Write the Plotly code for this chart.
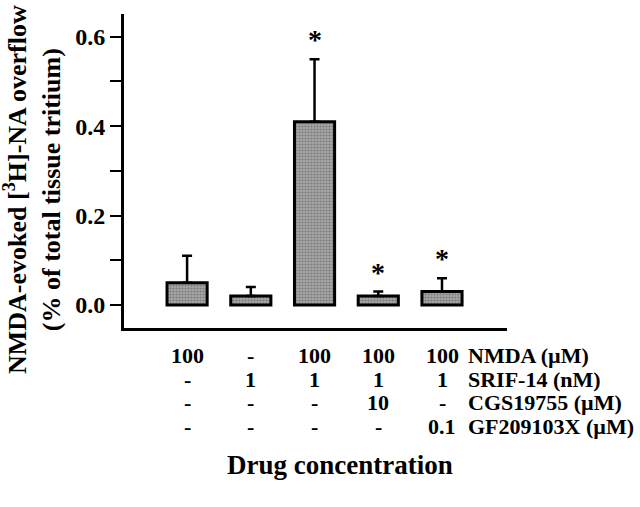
import plotly.graph_objects as go

# ---- data ----
groups = [0, 1, 2, 3, 4]
values = [0.05, 0.02, 0.41, 0.02, 0.03]
errors = [0.06, 0.02, 0.14, 0.01, 0.03]
significant = [False, False, True, True, True]

row_labels = ["NMDA (\u00b5M)", "SRIF-14 (nM)", "CGS19755 (\u00b5M)", "GF209103X (\u00b5M)"]
table = [
    ["100", "-", "100", "100", "100"],
    ["-", "1", "1", "1", "1"],
    ["-", "-", "-", "10", "-"],
    ["-", "-", "-", "-", "0.1"],
]
ytick_vals = [0.0, 0.2, 0.4, 0.6]
ytick_text = ["0.0", "0.2", "0.4", "0.6"]
yminor_vals = [0.1, 0.3, 0.5]

FONT = "Liberation Serif"

# layout geometry (pixels)
W, H = 640, 507
L, R, T, B = 124, 133, 14, 179
plot_h = H - T - B

fig = go.Figure()
fig.add_trace(go.Bar(
    x=groups, y=values, width=0.63,
    marker=dict(color="#9a9a9a",
                line=dict(color="black", width=3),
                pattern=dict(shape=".", fgcolor="#4a4a4a", bgcolor="#a8a8a8",
                             size=3, solidity=0.4)),
    error_y=dict(type="data", array=errors, arrayminus=[0]*len(errors),
                 symmetric=False, color="black", thickness=2.5, width=5),
    showlegend=False,
))

# significance asterisks
for g, v, e, s in zip(groups, values, errors, significant):
    if s:
        fig.add_annotation(x=g, y=v + e, xref="x", yref="y", text="<b>*</b>",
                           showarrow=False, yanchor="bottom", yshift=2,
                           font=dict(family=FONT, size=28, color="black"))

def py(px):
    return (H - B - px) / plot_h

row_px = [355, 379, 402, 426]
for r, (lab, row) in enumerate(zip(row_labels, table)):
    for g, t in zip(groups, row):
        fig.add_annotation(x=g, y=py(row_px[r]), xref="x", yref="paper",
                           text="<b>%s</b>" % t, showarrow=False,
                           xanchor="center", yanchor="middle",
                           font=dict(family=FONT, size=22, color="black"))
    fig.add_annotation(x=4.38, y=py(row_px[r]), xref="x", yref="paper",
                       text="<b>%s</b>" % lab, showarrow=False,
                       xanchor="left", yanchor="middle",
                       font=dict(family=FONT, size=22, color="black"))

fig.add_annotation(x=(340 - L) / (W - L - R), y=py(465), xref="paper", yref="paper",
                   text="<b>Drug concentration</b>", showarrow=False,
                   xanchor="center", yanchor="middle",
                   font=dict(family=FONT, size=27, color="black"))

fig.add_annotation(x=(32 - L) / (W - L - R), y=py(190), xref="paper", yref="paper",
                   text="<b>NMDA-evoked [<sup>3</sup>H]-NA overflow<br>(% of total tissue tritium)</b>",
                   showarrow=False, textangle=-90,
                   xanchor="center", yanchor="middle",
                   font=dict(family=FONT, size=26, color="black"))

fig.update_layout(
    width=W, height=H,
    margin=dict(l=L, r=R, t=T, b=B),
    paper_bgcolor="white", plot_bgcolor="white",
    bargap=0.3,
)
fig.update_xaxes(range=[-0.99, 5.02], showline=True, linecolor="black", linewidth=3,
                 showticklabels=False, ticks="", showgrid=False, zeroline=False)
fig.update_yaxes(range=[-0.0515, 0.651], showline=True, linecolor="black", linewidth=3,
                 tickvals=ytick_vals, ticktext=ytick_text, ticks="outside",
                 ticklen=11, tickwidth=2, tickcolor="black",
                 minor=dict(tickvals=yminor_vals, ticks="outside", ticklen=11,
                            tickwidth=2, tickcolor="black", showgrid=False),
                 tickfont=dict(family=FONT, size=24, color="black", weight="bold"),
                 showgrid=False, zeroline=False)

fig.write_html("out.html", config={"displayModeBar": False},
               post_script="document.body.style.margin='0';")
